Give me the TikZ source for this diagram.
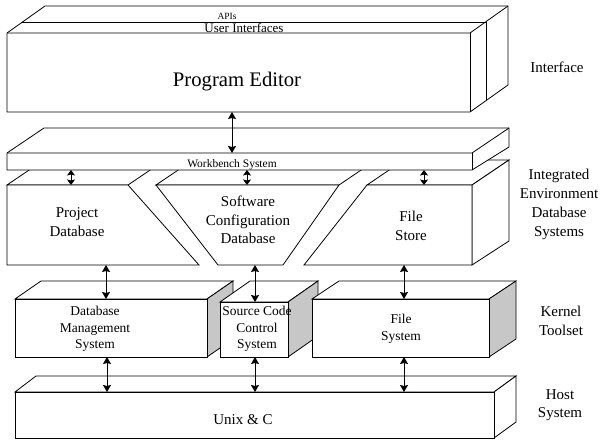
\documentclass[tikz,border=0pt]{standalone}
\usepackage{fontspec}
\setmainfont{Liberation Serif}
\usetikzlibrary{arrows.meta}
\begin{document}
\begin{tikzpicture}[x=1pt,y=-1pt,line width=0.8pt,line join=miter,
  face/.style={draw=black,fill=white},
  side/.style={draw=black,fill=black!22},
  link/.style={line width=0.8pt,
    {Stealth[length=7pt,width=8pt,inset=1pt]}-{Stealth[length=7pt,width=8pt,inset=1pt]}},
  shortlink/.style={line width=0.8pt,
    {Stealth[length=5.5pt,width=8pt,inset=1pt]}-{Stealth[length=5.5pt,width=8pt,inset=1pt]}},
  txt/.style={inner sep=0pt,anchor=base,align=center},
  big/.style={txt,font=\fontsize{15}{18.5}\selectfont},
  mid/.style={txt,font=\fontsize{13.5}{16.3}\selectfont}
]
\useasboundingbox (0,0) rectangle (600,442);

% Multi-line labels are placed by the baseline of their last line.

% ---------- Interface: APIs / User Interfaces / Program Editor ----------
\draw[face] (7,33) -- (45,6) -- (508,6) -- (508,85) -- (470,112) -- (7,112) -- cycle;
\draw (7,33) -- (470,33) -- (508,6);
\draw (470,33) -- (470,112);
\draw (22,22) -- (486,22) -- (486,100);
\node[txt,font=\fontsize{9.5}{11}\selectfont] (apis) at (227,19) {APIs};
\node[txt,font=\fontsize{13}{15}\selectfont] (ui) at (244,32) {User Interfaces};
\node[txt,font=\fontsize{20.7}{24}\selectfont] (pe) at (237,86) {Program Editor};

% ---------- Integrated environment database systems ----------
% Project Database
\draw[face] (7,185) -- (44,160) -- (165,160) -- (128,185) -- cycle;
\draw[face] (7,185) -- (128,185) -- (199,265) -- (7,265) -- cycle;
% Software Configuration Database
\draw[face] (156,185) -- (193,160) -- (376,160) -- (339,185) -- cycle;
\draw[face] (156,185) -- (339,185) -- (283,265) -- (218,265) -- cycle;
% File Store
\draw[face] (367,185) -- (404,160) -- (509,160) -- (472,185) -- cycle;
\draw[face] (472,185) -- (509,160) -- (509,241) -- (472,265) -- cycle;
\draw[face] (367,185) -- (472,185) -- (472,265) -- (304,265) -- cycle;

% Workbench slab on top of the databases
\draw[face] (7,153) -- (44,128) -- (509,128) -- (509,147) -- (472,170) -- (7,170) -- cycle;
\draw (7,153) -- (472,153) -- (509,128);
\draw (472,153) -- (472,170);
\node[txt,font=\fontsize{11.5}{13}\selectfont] (wb) at (232,167) {Workbench System};

\node[big,font=\fontsize{15}{19.7}\selectfont] (pdb) at (77,236.7) {Project\\Database};
\node[big,font=\fontsize{15}{18.3}\selectfont] (scd) at (248,243.3) {Software\\Configuration\\Database};
\node[big,font=\fontsize{15}{18.3}\selectfont] (fst) at (411,240) {File\\Store};

% ---------- Kernel toolset ----------
% Database Management System
\draw[face] (15,299) -- (41,281) -- (233,281) -- (207,299) -- cycle;
\draw[side] (207,299) -- (233,281) -- (233,339) -- (207,357) -- cycle;
\draw[face] (15,299) rectangle (207,357);
% Source Code Control System
\draw[face] (220,302) -- (250,281) -- (318,281) -- (288,302) -- cycle;
\draw[side] (288,302) -- (318,281) -- (318,336) -- (288,357) -- cycle;
\draw[face] (220,302) rectangle (288,357);
% File System
\draw[face] (312,299) -- (339,281) -- (516,281) -- (489,299) -- cycle;
\draw[side] (489,299) -- (516,281) -- (516,339) -- (489,357) -- cycle;
\draw[face] (312,299) rectangle (489,357);

\node[mid] (dbms) at (95,348.3) {Database\\Management\\System};
\node[mid] (sccs) at (257,348.3) {Source Code\\Control\\System};
\node[mid,font=\fontsize{13.5}{16.7}\selectfont] (fsys) at (401,340) {File\\System};

% ---------- Host system ----------
\draw[face] (15,392) -- (36,376) -- (516,376) -- (494,392) -- cycle;
\draw[face] (494,392) -- (516,376) -- (516,422) -- (494,438) -- cycle;
\draw[face] (15,392) rectangle (494,438);
\node[big] (unix) at (243,424) {Unix \& C};

% ---------- Layer names ----------
\node[big] (l-if) at (557,72) {Interface};
\node[big,font=\fontsize{15}{18.7}\selectfont] (l-ie) at (559,236) {Integrated\\Environment\\Database\\Systems};
\node[big,font=\fontsize{15}{18.3}\selectfont] (l-kt) at (561,335) {Kernel\\Toolset};
\node[big,font=\fontsize{15}{18}\selectfont] (l-hs) at (560,417.3) {Host\\System};

% ---------- Connection points ----------
\coordinate (pe-s)   at (232,112);
\coordinate (wb-n)   at (232,153);
\coordinate (wb-s1)  at (71,170);
\coordinate (wb-s2)  at (247,170);
\coordinate (wb-s3)  at (424,170);
\coordinate (pdb-n)  at (71,185);
\coordinate (scd-n)  at (247,185);
\coordinate (fst-n)  at (424,185);
\coordinate (pdb-s)  at (106,265);
\coordinate (scd-s)  at (255,265);
\coordinate (fst-s)  at (404,265);
\coordinate (dbms-n) at (106,299);
\coordinate (sccs-n) at (255,302);
\coordinate (fsys-n) at (404,299);
\coordinate (dbms-s) at (107,357);
\coordinate (sccs-s) at (255,357);
\coordinate (fsys-s) at (404,357);
\coordinate (unix-n1) at (107,392);
\coordinate (unix-n2) at (255,392);
\coordinate (unix-n3) at (404,392);

% ---------- Connectors ----------
\draw[link] (pe-s) -- (wb-n);
\draw[shortlink] (wb-s1) -- (pdb-n);
\draw[shortlink] (wb-s2) -- (scd-n);
\draw[shortlink] (wb-s3) -- (fst-n);
\draw[link] (pdb-s) -- (dbms-n);
\draw[link] (scd-s) -- (sccs-n);
\draw[link] (fst-s) -- (fsys-n);
\draw[link] (dbms-s) -- (unix-n1);
\draw[link] (sccs-s) -- (unix-n2);
\draw[link] (fsys-s) -- (unix-n3);
\end{tikzpicture}
\end{document}
